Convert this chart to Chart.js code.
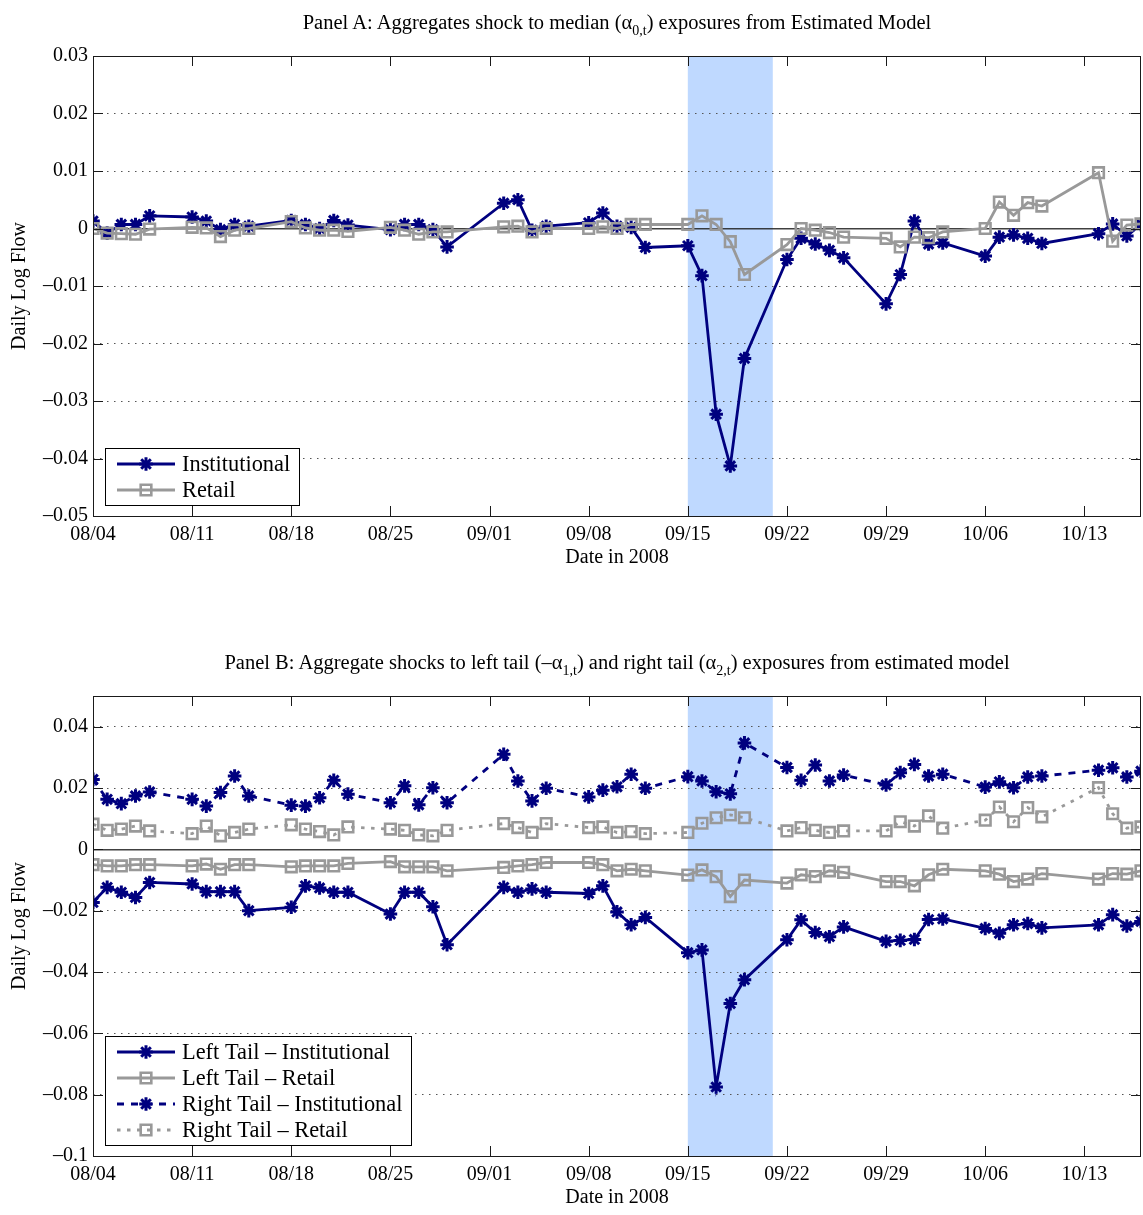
<!DOCTYPE html>
<html><head><meta charset="utf-8">
<script src="https://cdn.jsdelivr.net/npm/chart.js@4/dist/chart.umd.min.js"></script>
<style>
html,body{margin:0;padding:0;background:#fff;}
#wrap{position:relative;width:1143px;height:1215px;overflow:hidden;background:#fff;}
canvas{position:absolute;left:0;}
.ttl{position:absolute;left:93px;width:1048px;text-align:center;font-family:"Liberation Serif","Times New Roman",Times,serif;font-size:20.5px;line-height:22px;color:#000;white-space:nowrap;}
.ttl sub{font-size:14px;line-height:0;vertical-align:-6px;}
</style></head>
<body><div id="wrap">
<canvas id="cA" width="1143" height="640" style="top:0"></canvas>
<canvas id="cB" width="1143" height="575" style="top:640px"></canvas>
<div class="ttl" style="top:11px">Panel A: Aggregates shock to median (α<sub>0,t</sub>) exposures from Estimated Model</div>
<div class="ttl" style="top:651px">Panel B: Aggregate shocks to left tail (–α<sub>1,t</sub>) and right tail (α<sub>2,t</sub>) exposures from estimated model</div>
</div>
<script>
// ---------- DATA ----------
const dates = ['08/04','08/05','08/06','08/07','08/08','08/11','08/12','08/13','08/14','08/15',
  '08/18','08/19','08/20','08/21','08/22','08/25','08/26','08/27','08/28','08/29',
  '09/02','09/03','09/04','09/05','09/08','09/09','09/10','09/11','09/12',
  '09/15','09/16','09/17','09/18','09/19','09/22','09/23','09/24','09/25','09/26',
  '09/29','09/30','10/01','10/02','10/03','10/06','10/07','10/08','10/09','10/10',
  '10/14','10/15','10/16','10/17'];

const institutionalA = [0.0013,-0.0008,0.0007,0.0007,0.0022,0.0020,0.0013,-0.0002,0.0007,0.0004,
  0.0014,0.0007,0.0000,0.0014,0.0006,-0.0002,0.0007,0.0007,-0.0002,-0.0032,
  0.0044,0.0050,-0.0003,0.0004,0.0010,0.0027,0.0004,0.0002,-0.0033,
  -0.0030,-0.0082,-0.0323,-0.0413,-0.0226,-0.0054,-0.0017,-0.0027,-0.0038,-0.0051,
  -0.0131,-0.0080,0.0013,-0.0027,-0.0025,-0.0048,-0.0015,-0.0011,-0.0017,-0.0026,
  -0.0009,0.0008,-0.0013,0.0007];

const retailA = [0.0000,-0.0008,-0.0009,-0.0010,-0.0001,0.0002,0.0001,-0.0014,-0.0003,0.0000,
  0.0012,0.0001,-0.0003,-0.0003,-0.0005,0.0002,-0.0003,-0.0010,-0.0006,-0.0006,
  0.0003,0.0004,-0.0006,0.0000,0.0000,0.0003,0.0000,0.0007,0.0007,
  0.0007,0.0022,0.0007,-0.0023,-0.0080,-0.0028,0.0000,-0.0003,-0.0007,-0.0015,
  -0.0017,-0.0032,-0.0015,-0.0016,-0.0006,0.0000,0.0046,0.0023,0.0045,0.0039,
  0.0097,-0.0022,0.0006,0.0008];

const leftTailInst = [-0.0173,-0.0124,-0.0140,-0.0157,-0.0108,-0.0113,-0.0138,-0.0138,-0.0138,-0.0200,
  -0.0189,-0.0119,-0.0126,-0.0140,-0.0140,-0.0211,-0.0140,-0.0140,-0.0187,-0.0311,
  -0.0124,-0.0140,-0.0129,-0.0140,-0.0144,-0.0119,-0.0204,-0.0246,-0.0222,
  -0.0337,-0.0328,-0.0775,-0.0503,-0.0425,-0.0295,-0.0230,-0.0271,-0.0285,-0.0253,
  -0.0300,-0.0297,-0.0294,-0.0229,-0.0227,-0.0258,-0.0274,-0.0246,-0.0242,-0.0256,
  -0.0246,-0.0213,-0.0250,-0.0235];

const leftTailRetail = [-0.0050,-0.0054,-0.0054,-0.0050,-0.0050,-0.0054,-0.0048,-0.0065,-0.0050,-0.0050,
  -0.0057,-0.0054,-0.0054,-0.0054,-0.0046,-0.0040,-0.0057,-0.0057,-0.0057,-0.0070,
  -0.0059,-0.0054,-0.0050,-0.0043,-0.0043,-0.0050,-0.0070,-0.0065,-0.0070,
  -0.0084,-0.0067,-0.0089,-0.0154,-0.0100,-0.0110,-0.0083,-0.0089,-0.0070,-0.0075,
  -0.0105,-0.0105,-0.0119,-0.0083,-0.0065,-0.0070,-0.0081,-0.0105,-0.0097,-0.0079,
  -0.0097,-0.0079,-0.0081,-0.0070];

const rightTailInst = [0.0228,0.0163,0.0149,0.0174,0.0187,0.0163,0.0141,0.0185,0.0239,0.0174,
  0.0144,0.0141,0.0168,0.0225,0.0180,0.0152,0.0207,0.0145,0.0201,0.0152,
  0.0310,0.0223,0.0158,0.0199,0.0171,0.0193,0.0204,0.0245,0.0199,
  0.0237,0.0223,0.0188,0.0181,0.0347,0.0267,0.0225,0.0275,0.0223,0.0242,
  0.0210,0.0250,0.0277,0.0239,0.0245,0.0203,0.0220,0.0201,0.0236,0.0239,
  0.0258,0.0266,0.0236,0.0255];

const rightTailRetail = [0.0082,0.0062,0.0066,0.0076,0.0060,0.0051,0.0076,0.0044,0.0055,0.0066,
  0.0080,0.0066,0.0058,0.0047,0.0073,0.0066,0.0062,0.0047,0.0044,0.0062,
  0.0084,0.0071,0.0055,0.0084,0.0071,0.0073,0.0055,0.0058,0.0051,
  0.0055,0.0085,0.0103,0.0112,0.0103,0.0060,0.0071,0.0062,0.0055,0.0060,
  0.0060,0.0090,0.0076,0.0109,0.0069,0.0095,0.0138,0.0090,0.0136,0.0106,
  0.0201,0.0116,0.0069,0.0073];

const xTickLabels = ['08/04','08/11','08/18','08/25','09/01','09/08','09/15','09/22','09/29','10/06','10/13'];
const xStart = '08/04', xEnd = '10/17';
const shadeStart = '09/15', shadeEnd = '09/21';

const yTicksA = [-0.05,-0.04,-0.03,-0.02,-0.01,0,0.01,0.02,0.03];
const yTickLabelsA = ['–0.05','–0.04','–0.03','–0.02','–0.01','0','0.01','0.02','0.03'];
const yTicksB = [-0.1,-0.08,-0.06,-0.04,-0.02,0,0.02,0.04];
const yTickLabelsB = ['–0.1','–0.08','–0.06','–0.04','–0.02','0','0.02','0.04'];
const yRangeA = [-0.05, 0.03];
const yRangeB = [-0.1, 0.05];

// ---------- HELPERS ----------
const FONT = '"Liberation Serif","Times New Roman",Times,serif';
const NAVY = '#00007f';
const GRAY = 'rgb(153,153,153)';
const SHADE = 'rgb(191,217,255)';
function dayOf(s){ const [m,d] = s.split('/').map(Number); return (Date.UTC(2008,m-1,d) - Date.UTC(2008,7,4))/86400000; }
const xs = dates.map(dayOf);
const pts = arr => arr.map((v,i) => ({x: xs[i], y: v}));

function markerPath(ctx, style, x, y, r){
  ctx.beginPath();
  if (style === 'star'){
    for (let k=0;k<4;k++){ const a=k*Math.PI/4; ctx.moveTo(x-r*Math.cos(a), y-r*Math.sin(a)); ctx.lineTo(x+r*Math.cos(a), y+r*Math.sin(a)); }
  } else { const s=r*Math.SQRT1_2; ctx.rect(x-s,y-s,2*s,2*s); }
  ctx.stroke();
}

const matlabPlugin = {
  id: 'matlab',
  beforeDraw(chart, args, o){
    const {ctx, chartArea:a, scales:{x}} = chart;
    ctx.save();
    ctx.fillStyle = '#fff'; ctx.fillRect(0,0,chart.width,chart.height);
    const x0 = x.getPixelForValue(dayOf(o.shade[0])), x1 = x.getPixelForValue(dayOf(o.shade[1]));
    ctx.fillStyle = SHADE; ctx.fillRect(x0, a.top, x1-x0, a.bottom-a.top);
    ctx.restore();
  },
  afterDatasetsDraw(chart, args, o){
    const {ctx, chartArea:a, scales:{x,y}} = chart;
    ctx.save();
    ctx.strokeStyle = '#1a1a1a'; ctx.lineWidth = 1; ctx.setLineDash([]);
    ctx.beginPath();
    const L = 10;
    x.ticks.forEach(t => { const px = Math.round(x.getPixelForValue(t.value))+0.5;
      ctx.moveTo(px, a.top); ctx.lineTo(px, a.top+L); ctx.moveTo(px, a.bottom); ctx.lineTo(px, a.bottom-L); });
    y.ticks.forEach(t => { const py = Math.round(y.getPixelForValue(t.value))+0.5;
      ctx.moveTo(a.left, py); ctx.lineTo(a.left+L, py); ctx.moveTo(a.right, py); ctx.lineTo(a.right-L, py); });
    ctx.stroke();
    ctx.strokeRect(Math.round(a.left)+0.5, Math.round(a.top)+0.5, Math.round(a.right-a.left)-1, Math.round(a.bottom-a.top));
    ctx.restore();
  },
  afterDraw(chart, args, o){
    const {ctx, chartArea:a} = chart;
    const items = chart.data.datasets.map(d => d);
    ctx.save();
    ctx.font = '22.4px ' + FONT;
    const maxW = Math.max(...items.map(d => ctx.measureText(d.label).width));
    const rowH = 26;
    const bw = 77 + maxW + 9, bh = items.length*rowH + 5;
    const bx = a.left + 12, by = a.bottom - 11 - bh;
    ctx.fillStyle = '#fff'; ctx.fillRect(bx, by, bw, bh);
    ctx.strokeStyle = '#000'; ctx.lineWidth = 1; ctx.strokeRect(Math.round(bx)+0.5, Math.round(by)+0.5, Math.round(bw), Math.round(bh));
    items.forEach((d,i) => {
      const cy = by + 16 + i*rowH;
      ctx.strokeStyle = d.borderColor; ctx.lineWidth = d.borderWidth;
      ctx.setLineDash(d.borderDash || []);
      ctx.beginPath(); ctx.moveTo(bx+12, cy); ctx.lineTo(bx+70, cy); ctx.stroke();
      ctx.setLineDash([]); ctx.lineWidth = d.pointBorderWidth;
      markerPath(ctx, d.pointStyle, bx+41, cy, d.pointRadius);
      ctx.fillStyle = '#000'; ctx.textBaseline = 'middle'; ctx.textAlign = 'left';
      ctx.fillText(d.label, bx+77, cy+1);
    });
    ctx.restore();
  }
};

function yScale(range, ticks, labels){
  return {
    type: 'linear', min: range[0], max: range[1],
    afterBuildTicks: s => { s.ticks = ticks.map(v => ({value: v})); },
    afterFit: s => { s.width = 85; s.paddingTop = 0; s.paddingBottom = 0; },
    ticks: { callback: (v,i) => labels[i], font: {family: FONT, size: 20}, color: '#000', padding: 5 },
    grid: {
      drawTicks: false,
      color: c => { const v = c.tick ? c.tick.value : null; if (v === 0) return 'rgba(30,30,30,0.85)'; if (v === range[0] || v === range[1]) return 'rgba(0,0,0,0)'; return '#555'; },
      lineWidth: c => (c.tick && c.tick.value === 0) ? 1.5 : 1
    },
    border: { display: false, dash: c => (c.tick && c.tick.value === 0) ? [] : [1.5, 5.5] },
    title: { display: true, text: 'Daily Log Flow', font: {family: FONT, size: 20}, color: '#000', padding: {top: 0, bottom: 0} }
  };
}
function xScale(){
  const tv = xTickLabels.map(dayOf);
  return {
    type: 'linear', min: dayOf(xStart), max: dayOf(xEnd),
    afterBuildTicks: s => { s.ticks = tv.map(v => ({value: v})); },
    afterFit: s => { s.height = 54; s.paddingLeft = 0; s.paddingRight = 0; },
    ticks: { callback: (v,i) => xTickLabels[i], font: {family: FONT, size: 20}, color: '#000', padding: 7, maxRotation: 0, autoSkip: false },
    grid: { display: false, drawTicks: false },
    border: { display: false },
    title: { display: true, text: 'Date in 2008', font: {family: FONT, size: 20}, color: '#000', padding: {top: 0, bottom: 0} }
  };
}
function ds(label, data, color, style, dash, order){
  const star = style === 'star';
  return { label, data: pts(data), borderColor: color, backgroundColor: color, borderWidth: 2.8,
    borderDash: dash, pointStyle: style, pointRadius: star ? 6.8 : 7.5, pointBorderWidth: star ? 3 : 2.6,
    pointBorderColor: color, pointBackgroundColor: star ? color : 'rgba(0,0,0,0)', tension: 0, order };
}
function opts(range, ticks, labels, padBottom){
  return {
    responsive: false, animation: false, events: [],
    layout: { autoPadding: false, padding: {left: 8, top: 56, right: 2, bottom: padBottom} },
    scales: { x: xScale(), y: yScale(range, ticks, labels) },
    plugins: { legend: {display: false}, tooltip: {enabled: false}, title: {display: false},
      matlab: { shade: [shadeStart, shadeEnd] } }
  };
}

new Chart(document.getElementById('cA'), {
  type: 'line',
  data: { datasets: [
    ds('Institutional', institutionalA, NAVY, 'star', [], 1),
    ds('Retail', retailA, GRAY, 'rect', [], 0)
  ]},
  options: opts(yRangeA, yTicksA, yTickLabelsA, 70),
  plugins: [matlabPlugin]
});

new Chart(document.getElementById('cB'), {
  type: 'line',
  data: { datasets: [
    ds('Left Tail – Institutional', leftTailInst, NAVY, 'star', [], 3),
    ds('Left Tail – Retail', leftTailRetail, GRAY, 'rect', [], 1),
    ds('Right Tail – Institutional', rightTailInst, NAVY, 'star', [7, 7], 2),
    ds('Right Tail – Retail', rightTailRetail, GRAY, 'rect', [3.5, 6.5], 0)
  ]},
  options: opts(yRangeB, yTicksB, yTickLabelsB, 5),
  plugins: [matlabPlugin]
});
</script>
</body></html>
